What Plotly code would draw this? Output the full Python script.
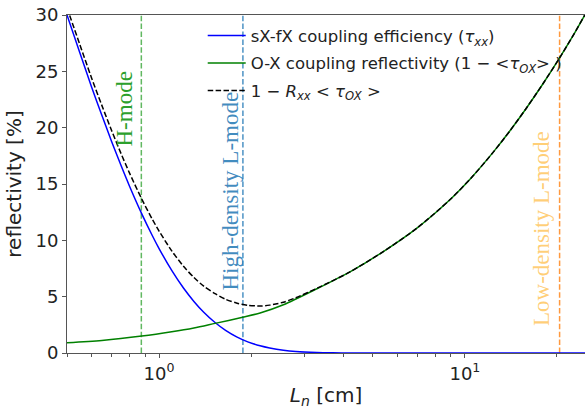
import numpy as np
import plotly.graph_objects as go

# ---- data ----
Ln_blue = [0.5, 0.55, 0.6, 0.65, 0.7, 0.75, 0.8, 0.878, 0.95, 1.0, 1.1, 1.2, 1.3, 1.4,
           1.524, 1.65, 1.8, 1.95, 2.14, 2.3, 2.55, 2.8, 3.28, 3.7, 4.21, 5.0, 6.0, 8.0, 12.0, 26.0]
sx_fx = [30.0, 26.7, 23.7, 21.1, 18.76, 16.68, 14.83, 12.35, 10.43, 9.27, 7.33, 5.79, 4.58, 3.62,
         2.705, 2.01, 1.41, 0.99, 0.636, 0.44, 0.243, 0.135, 0.044, 0.016, 0.005, 0.0008, 0.0, 0.0, 0.0, 0.0]

Ln_green = [0.5, 0.65, 0.878, 1.1, 1.3, 1.524, 1.876, 2.14, 2.55, 3.28, 4.21, 5.41, 6.95, 8.93,
            10.5, 12.4, 14.0, 15.9, 18.0, 20.4, 22.5, 24.7, 26.0]
ox_refl = [0.92, 1.12, 1.5, 1.88, 2.22, 2.63, 3.17, 3.55, 4.28, 5.7, 7.2, 9.0, 11.06, 13.6,
           15.56, 17.85, 19.68, 21.75, 23.9, 26.2, 28.1, 30.03, 31.1]

Ln_total = [0.5, 0.55, 0.6, 0.65, 0.7, 0.75, 0.8, 0.878, 0.95, 1.0, 1.1, 1.2, 1.3, 1.4, 1.524,
            1.65, 1.8, 1.95, 2.14, 2.3, 2.55, 2.8, 3.28, 4.21, 5.41, 6.95, 8.93, 10.5, 12.4,
            14.0, 15.9, 18.0, 20.4, 22.5, 24.7, 26.0]
combined = [30.64, 27.42, 24.5, 21.98, 19.73, 17.74, 15.99, 13.66, 11.88, 10.82, 9.07, 7.72, 6.7, 5.93, 5.27,
            4.77, 4.42, 4.24, 4.17, 4.25, 4.51, 4.91, 5.74, 7.2, 9.0, 11.06, 13.6, 15.56, 17.85,
            19.68, 21.75, 23.9, 26.2, 28.1, 30.03, 31.1]

regimes = ["H-mode", "High-density L-mode", "Low-density L-mode"]
regime_Ln = [0.875, 1.88, 20.4]
regime_line_colors = ["rgba(44,160,44,0.75)", "rgba(31,119,180,0.8)", "rgba(255,127,14,0.8)"]
regime_text_colors = ["#2ca02c", "rgba(31,119,180,0.85)", "rgba(255,165,0,0.55)"]

x_ticks = [1, 10]
x_ticktext = ["10<sup>0</sup>", "10<sup>1</sup>"]
x_minor = [0.5, 0.6, 0.7, 0.8, 0.9, 2, 3, 4, 5, 6, 7, 8, 9, 20]
y_ticks = [0, 5, 10, 15, 20, 25, 30]

FONT = "DejaVu Sans"

fig = go.Figure()

# regime lines
for name, v, c in zip(regimes, regime_Ln, regime_line_colors):
    fig.add_trace(go.Scatter(x=[v, v], y=[0, 30], mode="lines", showlegend=False,
                             hoverinfo="skip",
                             line=dict(color=c, width=1.5, dash="5.5px,2.4px")))

fig.add_trace(go.Scatter(x=Ln_blue, y=sx_fx, mode="lines", legendgroup="a",
                         line=dict(color="#0000ff", width=1.5, shape="spline", smoothing=0.8),
                         name="sX-fX coupling efficiency (<i>τ</i><sub><i>xx</i></sub>)"))
fig.add_trace(go.Scatter(x=Ln_green, y=ox_refl, mode="lines", legendgroup="b",
                         line=dict(color="#008000", width=1.5, shape="spline", smoothing=0.8),
                         name="O-X coupling reflectivity (1 − &lt;<i>τ</i><sub><i>OX</i></sub>&gt; )"))
fig.add_trace(go.Scatter(x=Ln_total, y=combined, mode="lines", legendgroup="c",
                         line=dict(color="black", width=1.5, dash="5.5px,2.4px", shape="spline", smoothing=0.8),
                         name="1 − <i>R</i><sub><i>xx</i></sub> &lt; <i>τ</i><sub><i>OX</i></sub> &gt;"))

# regime labels
L, R, T, B = 67, 585, 15, 353
def px(xp, yp):
    return (xp - L) / (R - L), (B - yp) / (B - T)

label_pos = [(124.5, 109), (229.5, 191), (541, 229)]
for name, (xp, yp), c in zip(regimes, label_pos, regime_text_colors):
    xx, yy = px(xp, yp)
    fig.add_annotation(x=xx, y=yy, xref="paper", yref="paper", text=name, showarrow=False,
                       textangle=-90, xanchor="center", yanchor="middle",
                       font=dict(family="Liberation Serif", size=23, color=c))

axis_col = "#555555"
fig.update_layout(
    width=585, height=409,
    margin=dict(l=L, r=0, t=T, b=409 - B),
    paper_bgcolor="white", plot_bgcolor="white",
    font=dict(family=FONT, color="#222222"),
    xaxis=dict(type="log", range=[np.log10(0.5), np.log10(24.7)],
               tickmode="array", tickvals=x_ticks, ticktext=x_ticktext,
               ticks="outside", ticklen=4, tickwidth=1, tickcolor=axis_col,
               minor=dict(tickmode="array", tickvals=x_minor, ticks="outside", ticklen=2.5,
                          tickcolor=axis_col, showgrid=False),
               showline=True, linecolor=axis_col, linewidth=1, mirror=True,
               showgrid=False, zeroline=False,
               tickfont=dict(size=18),
               title=dict(text="<i>L</i><sub><i>n</i></sub> [cm]", font=dict(size=20), standoff=5)),
    yaxis=dict(range=[0, 30], tickmode="array", tickvals=y_ticks,
               ticks="outside", ticklen=4, tickwidth=1, tickcolor=axis_col,
               showline=True, linecolor=axis_col, linewidth=1, mirror=False,
               showgrid=False, zeroline=False,
               tickfont=dict(size=18),
               title=dict(text="reflectivity [%]", font=dict(size=20), standoff=8)),
    legend=dict(x=0.262, y=0.99, xanchor="left", yanchor="top", itemwidth=38,
                bgcolor="rgba(0,0,0,0)", font=dict(size=16.5, family=FONT),
                tracegroupgap=3),
    showlegend=True,
)

fig.write_html("out.html")
